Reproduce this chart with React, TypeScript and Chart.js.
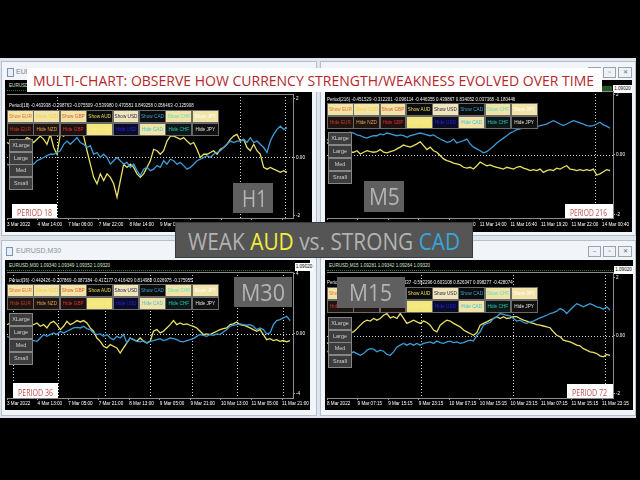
import React, { useEffect, useLayoutEffect, useRef, useState } from 'react';
import { Chart, registerables } from 'chart.js';
Chart.register(...registerables);

// ---------------- DATA ----------------
const H1_LABELS = ['3 Mar 2022', '4 Mar 14:00', '7 Mar 06:00', '7 Mar 22:00', '8 Mar 14:00', '9 Mar 06:00', '9 Mar 22:00', '10 Mar 14:00', '11 Mar 06:00', '11 Mar 22:00'];
const M5_LABELS = ['11 Mar 2022', '11 Mar 03:20', '11 Mar 06:00', '11 Mar 08:40', '11 Mar 11:20', '11 Mar 14:00', '11 Mar 16:40', '11 Mar 19:20', '11 Mar 22:00', '14 Mar 00:40'];
const M30_LABELS = ['3 Mar 2022', '4 Mar 13:00', '7 Mar 05:00', '7 Mar 21:00', '8 Mar 13:00', '9 Mar 05:00', '9 Mar 21:00', '10 Mar 13:00', '11 Mar 05:00', '11 Mar 21:00'];
const M15_LABELS = ['8 Mar 2022', '9 Mar 07:15', '9 Mar 15:15', '9 Mar 23:15', '10 Mar 07:15', '10 Mar 15:15', '10 Mar 23:15', '11 Mar 07:15', '11 Mar 15:15', '11 Mar 23:15'];

const H1_SEPARATORS = [15, 70, 83.5];
const M5_SEPARATORS = [80.5];
const M30_SEPARATORS = [1.8, 15.3, 29.4, 42.9, 55.5, 69, 82.8];
const M15_SEPARATORS = [28.2, 55.9, 83.5];

const H1_AUD = [0.51, 0.45, 0.56, 0.62, 0.51, 0.56, 0.68, 0.62, 0.51, 0.62,
  0.73, 0.62, 0.45, 0.79, 0.34, 0.11, 0.79, 0.73, 0.85, 0.79,
  0.85, 0.79, 0.81, 0.73, 0.23, -0.23, -0.68, -0.90, -0.56, -0.79,
  -0.56, -0.68, -0.90, -1.36, -0.79, -0.23, -0.34, -0.23, -0.34, -0.56,
  -0.68, -0.56, -0.34, -0.11, 0.28, 0.23, 0.11, 0.23, 0.56, 0.73,
  0.73, 0.68, 0.62, 0.68, 0.56, 0.45, 0.51, 0.28, 0, 0.11,
  0.11, 0.17, 0.23, 0.11, 0.28, 0.34, 0.45, 0.62, 0.73, 0.79,
  0.56, 0.62, 0.34, 0.23, 0.45, 0.23, 0.11, -0.34, -0.40, -0.34,
  -0.40, -0.45, -0.51, -0.45, -0.51];
const H1_CAD = [-0.23, -0.28, -0.23, -0.17, -0.23, -0.11, -0.17, -0.23, -0.23, -0.11,
  -0.06, 0, 0.06, 0.11, 0.11, 0.17, 0.23, 0.45, 0.56, 0.45,
  0.56, 0.68, 0.51, 0.45, 0.34, 0.40, 0.11, 0.17, 0, 0.11,
  0, -0.23, -0.11, 0, -0.11, -0.23, -0.17, -0.34, -0.23, -0.45,
  -0.62, -0.40, -0.34, -0.45, -0.40, -0.28, -0.34, -0.11, -0.23, -0.06,
  -0.11, -0.23, -0.17, -0.28, -0.40, -0.34, -0.23, -0.11, -0.06, 0,
  0.06, 0, 0.11, 0.17, 0.23, 0.34, 0.45, 0.56, 0.51, 0.56,
  0.56, 0.62, 0.51, 0.68, 0.51, 0.56, 0.45, 0.34, 0.17, 0.56,
  0.79, 0.96, 1.07, 0.96, 1.02];

const M5_AUD = [0.42, 0.31, 0.20, 0.14, 0.09, 0.11, 0.07, 0.09,
  0.09, 0.14, 0.03, 0.09, 0.14, 0.11, 0.09, 0.11, 0.18, 0.09,
  0.07, 0.11, 0.14, 0.20, 0.26, 0.33, 0.29, 0.26, 0.31, 0.37,
  0.44, 0.31, 0.18, 0.26, 0.14, 0.09, -0.02, -0.13, -0.19, -0.22,
  -0.27, -0.30, -0.33, -0.41, -0.44, -0.41, -0.47, -0.36, -0.24, -0.30,
  -0.36, -0.33, -0.38, -0.41, -0.44, -0.47, -0.41, -0.44, -0.47, -0.41,
  -0.38, -0.44, -0.47, -0.52, -0.49, -0.52, -0.47, -0.58, -0.52, -0.49,
  -0.52, -0.44, -0.47, -0.41, -0.36, -0.47, -0.49, -0.52, -0.49, -0.52,
  -0.49, -0.52, -0.47, -0.67, -0.63, -0.56, -0.49, -0.52];
const M5_CAD = [0.48, 0.59, 0.64, 0.70, 0.67, 0.73, 0.70, 0.76,
  0.73, 0.67, 0.64, 0.59, 0.56, 0.61, 0.64, 0.64, 0.70, 0.67,
  0.73, 0.70, 0.67, 0.64, 0.67, 0.64, 0.59, 0.64, 0.67, 0.70,
  0.73, 0.70, 0.67, 0.64, 0.67, 0.59, 0.53, 0.48, 0.42, 0.44,
  0.53, 0.40, 0.44, 0.48, 0.53, 0.37, 0.26, 0.20, 0.14, 0.07,
  0.11, 0.20, 0.29, 0.40, 0.48, 0.56, 0.64, 0.73, 0.78, 0.84,
  0.87, 0.89, 0.92, 0.89, 0.96, 0.92, 0.98, 1.00, 1.03, 1.09,
  1.14, 1.09, 1.03, 0.98, 1.03, 1.09, 1.14, 1.11, 1.07, 1.03,
  0.98, 0.96, 0.98, 1.03, 1.09, 1.00, 0.96, 0.89];

const M30_AUD = [0.62, 0.73, 0.58, 0.67, 0.51, 0.62, 0.67, 0.58,
  0.62, 0.73, 0.51, 0.62, 0.40, 0.73, 0.84, 0.62, 0.29, 0.51,
  0.84, 0.62, 0.73, 0.89, 0.80, 0.89, 0.73, 0.40, 0.18, -0.27,
  -0.49, -0.82, -0.93, -0.71, -0.82, -0.93, -1.27, -0.93, -0.60, -0.27,
  -0.38, -0.49, -0.27, -0.49, -0.60, -0.49, 0.18, 0.29, 0.07, 0.18,
  0.40, 0.62, 0.89, 0.62, 0.73, 0.62, 0.67, 0.58, 0.51, 0.40,
  0.18, -0.04, 0, -0.04, 0.07, 0.18, 0.29, 0.36, 0.40, 0.62,
  0.67, 0.80, 0.62, 0.58, 0.51, 0.40, 0.29, 0.18, 0.29, -0.04,
  -0.38, -0.31, -0.44, -0.38, -0.49, -0.44, -0.53, -0.44];
const M30_CAD = [-0.16, -0.27, -0.38, -0.31, -0.44, -0.38, -0.49, -0.44,
  -0.44, -0.49, -0.27, -0.04, -0.16, -0.04, 0.07, -0.04, 0.18, 0.07,
  0.18, 0.29, 0.40, 0.44, 0.40, 0.51, 0.36, 0.29, 0.07, -0.04,
  0, -0.16, -0.04, -0.27, -0.38, -0.16, -0.27, -0.04, -0.60, -0.27,
  -0.38, -0.49, -0.53, -0.44, -0.60, -0.49, -0.44, -0.38, -0.31, -0.44,
  -0.38, -0.27, -0.31, -0.38, -0.49, -0.53, -0.44, -0.38, -0.31, -0.16,
  -0.04, -0.09, -0.16, -0.04, -0.09, 0, -0.04, 0.13, 0.29, 0.51,
  0.58, 0.62, 0.67, 0.62, 0.58, 0.62, 0.51, 0.29, 0.40, 0.29,
  0, 0.07, 0.62, 0.89, 0.96, 1.07, 1.18, 0.89];

const M15_AUD = [-0.26, -0.21, -0.15, -0.09, -0.03, 0.02, 0.08, 0.11,
  0.14, 0.25, 0.37, 0.48, 0.54, 0.51, 0.60, 0.54, 0.60, 0.71,
  0.77, 0.62, 0.66, 0.60, 0.77, 0.60, 0.43, 0.48, 0.54, 0.48,
  0.43, 0.51, 0.46, 0.37, 0.20, 0.14, 0.37, 0.46, 0.54, 0.51,
  0.43, 0.37, 0.31, 0.20, 0.14, 0.08, 0.02, 0.11, 0.37, 0.43,
  0.48, 0.54, 0.60, 0.66, 0.60, 0.66, 0.60, 0.62, 0.66, 0.66,
  0.60, 0.54, 0.51, 0.46, 0.43, 0.39, 0.37, 0.34, 0.31, 0.28,
  0.14, 0.02, -0.03, -0.15, -0.18, -0.21, -0.26, -0.32, -0.34, -0.44,
  -0.49, -0.55, -0.57, -0.61, -0.69, -0.72, -0.64, -0.67];
const M15_CAD = [-0.55, -0.49, -0.57, -0.61, -0.53, -0.57, -0.55, -0.61,
  -0.55, -0.61, -0.67, -0.61, -0.49, -0.44, -0.46, -0.55, -0.49, -0.53,
  -0.64, -0.67, -0.55, -0.38, -0.32, -0.26, -0.32, -0.26, -0.32, -0.26,
  -0.32, -0.26, -0.23, -0.21, -0.26, -0.18, -0.23, -0.26, -0.21, -0.18,
  -0.23, -0.21, -0.26, -0.23, -0.18, -0.15, -0.18, 0.02, 0.14, 0.37,
  0.43, 0.46, 0.60, 0.66, 0.77, 0.74, 0.71, 0.69, 0.60, 0.51,
  0.54, 0.46, 0.43, 0.48, 0.51, 0.57, 0.62, 0.66, 0.71, 0.77,
  0.80, 0.85, 0.94, 0.89, 0.77, 0.89, 1.00, 1.11, 1.06, 1.00,
  1.06, 1.11, 1.06, 1.00, 0.97, 0.92, 1.00, 0.89];

const H1_Y_TICKS = [2, 0, -2];
const M5_Y_TICKS = [2, 0, -2];
const M30_Y_TICKS = [4, 0, -4];
const M15_Y_TICKS = [2, 0, -2];

const H1_PERIOD_TEXT = 'Period(18) -0.463938 -0.298763 -0.075509 -0.539980 0.470581 0.849258 0.056463 -0.125908';
const M5_PERIOD_TEXT = 'Period(216) -0.451529 -0.312201 -0.096114 -0.446355 0.439867 0.834052 0.037368 -0.180446';
const M30_PERIOD_TEXT = 'Period(36) -0.442426 -0.207869 -0.087384 -0.417177 0.416429 0.814988 0.026975 -0.175955';
const M15_PERIOD_TEXT = 'Period(72) -0.452207 -0.280017 -0.101337 -0.592296 0.603108 0.826347 0.098277 -0.428074';

const SHOW_LABELS = ['Show EUR', 'Show NZD', 'Show GBP', 'Show AUD', 'Show USD', 'Show CAD', 'Show CHF', 'Show JPY'];
const HIDE_LABELS = ['Hide EUR', 'Hide NZD', 'Hide GBP', 'Hide AUD', 'Hide USD', 'Hide CAD', 'Hide CHF', 'Hide JPY'];
const SHOW_BG = ['#f2e3a6', '#f2e3a6', '#f2e3a6', '#0c0c0c', '#f2e6b8', '#0c0c0c', '#f2e3a6', '#f2e3a6'];
const SHOW_FG = ['#e2742e', '#f1cf4a', '#e05a28', '#e8df5c', '#1c1c5e', '#3a9fd6', '#5fe0c0', '#ffffff'];
const HIDE_BG = ['#1e1410', '#1e1410', '#1e1010', '#f3e67e', '#0a0a2a', '#f2e3a6', '#0a1818', '#101010'];
const HIDE_FG = ['#c83a30', '#e5a05a', '#e03030', '#f7f08a', '#2424d8', '#3ac6e0', '#2fc0b0', '#e0e0e0'];
const SIZE_LABELS = ['XLarge', 'Large', 'Med', 'Small'];

const YELLOW = '#e9e064';
const BLUE = '#3c9dd6';
const TINY = '"Liberation Sans", Arial, sans-serif';

// ---------------- helpers ----------------
function FitText({ width, style, children }: any) {
  const ref = useRef<HTMLSpanElement>(null);
  const [k, setK] = useState(1);
  useLayoutEffect(() => {
    const el = ref.current;
    if (el && el.offsetWidth > 0) setK(width / el.offsetWidth);
  }, [width]);
  return (
    <span ref={ref} style={{ display: 'inline-block', whiteSpace: 'nowrap', transformOrigin: 'left center', transform: `scaleX(${k})`, ...style }}>
      {children}
    </span>
  );
}

function TextAt({ x, cy, w, h, style, children }: any) {
  return (
    <div style={{ position: 'absolute', left: x, top: cy - h / 2, height: h, lineHeight: `${h}px`, whiteSpace: 'nowrap' }}>
      <FitText width={w} style={style}>{children}</FitText>
    </div>
  );
}

const box = (x: number, y: number, w: number, h: number, extra: any = {}) => ({
  position: 'absolute' as const, left: x, top: y, width: w, height: h, boxSizing: 'border-box' as const, ...extra,
});

const mtPlugin = (seps: number[]) => ({
  id: 'mtgrid',
  beforeDatasetsDraw(chart: any) {
    const { ctx, chartArea: a, scales } = chart;
    const xs = scales.x, ys = scales.y;
    ctx.save();
    ctx.strokeStyle = '#cfcfcf';
    ctx.lineWidth = 1;
    ctx.setLineDash([1, 2]);
    ctx.beginPath();
    const y0 = Math.round(ys.getPixelForValue(0)) + 0.5;
    ctx.moveTo(a.left, y0);
    ctx.lineTo(a.right, y0);
    seps.forEach((s) => {
      const px = Math.round(xs.getPixelForValue(s)) + 0.5;
      ctx.moveTo(px, a.top);
      ctx.lineTo(px, a.bottom);
    });
    ctx.stroke();
    ctx.setLineDash([]);
    ctx.strokeStyle = '#8c8c8c';
    ctx.beginPath();
    ctx.moveTo(a.left, a.top + 0.5);
    ctx.lineTo(a.right, a.top + 0.5);
    ctx.stroke();
    ctx.restore();
  },
});

function MTChart({ cfg }: any) {
  const ref = useRef<HTMLCanvasElement>(null);
  useEffect(() => {
    const toPts = (arr: number[]) => arr.map((y, i) => ({ x: i, y }));
    const tickFont = { family: TINY, size: 4.6 };
    const chart = new Chart(ref.current as HTMLCanvasElement, {
      type: 'line',
      data: {
        datasets: [
          { label: 'CAD', data: toPts(cfg.cad), borderColor: BLUE, borderWidth: 1.3, pointRadius: 0, tension: 0 },
          { label: 'AUD', data: toPts(cfg.aud), borderColor: YELLOW, borderWidth: 1.3, pointRadius: 0, tension: 0 },
        ],
      },
      options: {
        animation: false,
        responsive: false,
        events: [],
        layout: { padding: { left: cfg.padL, top: cfg.padT, right: 0, bottom: 0 } },
        plugins: { legend: { display: false }, tooltip: { enabled: false } },
        scales: {
          x: {
            type: 'linear', min: 0, max: cfg.xMax,
            afterBuildTicks: (ax: any) => { ax.ticks = cfg.labels.map((_: string, k: number) => ({ value: k * cfg.xStep })); },
            afterFit: (ax: any) => { ax.height = cfg.xAxisH; ax.paddingLeft = 0; ax.paddingRight = 0; },
            ticks: { autoSkip: false, maxRotation: 0, minRotation: 0, align: 'start', padding: cfg.xPad, color: '#ffffff', font: tickFont, callback: (_v: any, i: number) => cfg.labels[i] },
            grid: { drawOnChartArea: false, drawTicks: true, tickLength: 2, color: '#a0a0a0' },
            border: { display: true, color: '#8c8c8c' },
          },
          y: {
            type: 'linear', position: 'right', min: cfg.yMin, max: cfg.yMax,
            afterBuildTicks: (ax: any) => { ax.ticks = cfg.yTicks.map((v: number) => ({ value: v })); },
            afterFit: (ax: any) => { ax.width = cfg.yAxisW; ax.paddingTop = 0; ax.paddingBottom = 0; },
            ticks: { padding: 1, color: '#ffffff', font: tickFont, callback: (v: any) => (v === 0 ? '0.00' : String(v)) },
            grid: { drawOnChartArea: false, drawTicks: true, tickLength: 2, color: '#a0a0a0' },
            border: { display: true, color: '#8c8c8c' },
          },
        },
      } as any,
      plugins: [mtPlugin(cfg.seps)],
    });
    return () => chart.destroy();
  }, [cfg]);
  return <canvas ref={ref} width={cfg.w} height={cfg.h} style={{ position: 'absolute', left: cfg.x, top: cfg.y, width: cfg.w, height: cfg.h }} />;
}

// ---------------- panel configs (layout) ----------------
const PANELS = [
  {
    x: 5, y: 80, w: 307, h: 152, padL: 2, padT: 14, yAxisW: 19, xAxisH: 14, xPad: 2,
    xMax: 85.8, xStep: 9.18, yMin: -2.07, yMax: 2.17, yTicks: H1_Y_TICKS, labels: H1_LABELS, seps: H1_SEPARATORS, aud: H1_AUD, cad: H1_CAD,
    ptext: H1_PERIOD_TEXT, ptX: 9, ptY: 102, ptW: 185,
    btnX: 7, showY: 110, hideY: 123, btnW: 26.4,
    sizeX: 9, sizeY: [139, 152, 164, 177],
    tf: 'H1', tfBox: [233, 183, 40, 30], tfText: [242, 198, 25],
    period: 'PERIOD 18', pBox: [12, 204, 45, 14], pText: [17, 211, 35],
  },
  {
    x: 325, y: 80, w: 307, h: 152, padL: 2, padT: 11, yAxisW: 19, xAxisH: 14, xPad: 2,
    xMax: 85.9, xStep: 9.18, yMin: -2.1, yMax: 2.13, yTicks: M5_Y_TICKS, labels: M5_LABELS, seps: M5_SEPARATORS, aud: M5_AUD, cad: M5_CAD,
    ptext: M5_PERIOD_TEXT, ptX: 327, ptY: 96, ptW: 188,
    btnX: 327, showY: 103, hideY: 116, btnW: 26.25,
    sizeX: 328, sizeY: [132, 145, 158, 171],
    tf: 'M5', tfBox: [364, 181, 40, 31], tfText: [369, 196, 31],
    period: 'PERIOD 216', pBox: [565, 204, 48, 14], pText: [570, 211, 37],
  },
  {
    x: 5, y: 260, w: 305, h: 150, padL: 2, padT: 12, yAxisW: 17, xAxisH: 12, xPad: 1,
    xMax: 85.9, xStep: 9.18, yMin: -4.27, yMax: 4.13, yTicks: M30_Y_TICKS, labels: M30_LABELS, seps: M30_SEPARATORS, aud: M30_AUD, cad: M30_CAD,
    ptext: M30_PERIOD_TEXT, ptX: 9, ptY: 277, ptW: 184,
    btnX: 7, showY: 284, hideY: 297, btnW: 26.4,
    sizeX: 9, sizeY: [313, 326, 339, 352],
    tf: 'M30', tfBox: [234, 277, 58, 30], tfText: [241, 292, 44],
    period: 'PERIOD 36', pBox: [13, 383, 45, 15], pText: [18, 390.5, 35],
  },
  {
    x: 325, y: 260, w: 308, h: 150, padL: 2, padT: 12, yAxisW: 20, xAxisH: 12, xPad: 1,
    xMax: 85.9, xStep: 9.18, yMin: -2.14, yMax: 2.2, yTicks: M15_Y_TICKS, labels: M15_LABELS, seps: M15_SEPARATORS, aud: M15_AUD, cad: M15_CAD,
    ptext: M15_PERIOD_TEXT, ptX: 327, ptY: 279, ptW: 186,
    btnX: 327, showY: 287, hideY: 300, btnW: 26.25,
    sizeX: 328, sizeY: [317, 330, 342, 355],
    tf: 'M15', tfBox: [337, 277, 68, 31], tfText: [349, 292, 43],
    period: 'PERIOD 72', pBox: [567, 384, 46, 14], pText: [572, 391, 35],
  },
];

const WINDOWS = [
  { x: 1, y: 61, w: 316, h: 175 },
  { x: 320, y: 61, w: 316, h: 175 },
  { x: 1, y: 240, w: 316, h: 176 },
  { x: 320, y: 240, w: 316, h: 176 },
];

function PanelOverlay({ p }: any) {
  const btnFont = { fontFamily: TINY, fontSize: 4.7, textAlign: 'center' as const, lineHeight: '11px', overflow: 'hidden', whiteSpace: 'nowrap' as const };
  return (
    <>
      <TextAt x={p.ptX} cy={p.ptY} w={p.ptW} h={8} style={{ color: '#f0f0f0', fontFamily: TINY, fontSize: 6 }}>{p.ptext}</TextAt>
      {SHOW_LABELS.map((t, k) => (
        <div key={'s' + k} style={box(p.btnX + k * p.btnW, p.showY, p.btnW + 0.5, 13, { background: SHOW_BG[k], color: SHOW_FG[k], border: '1px solid #6a6a6a', ...btnFont })}>{t}</div>
      ))}
      {HIDE_LABELS.map((t, k) => (
        <div key={'h' + k} style={box(p.btnX + k * p.btnW, p.hideY, p.btnW + 0.5, 13, { background: HIDE_BG[k], color: HIDE_FG[k], border: '1px solid #6a6a6a', ...btnFont })}>{t}</div>
      ))}
      {SIZE_LABELS.map((t, k) => (
        <div key={'z' + k} style={box(p.sizeX, p.sizeY[k], 24, 13, { background: '#3d3d3d', color: '#cfcfcf', border: '1px solid #858585', ...btnFont, fontSize: 5.5 })}>{t}</div>
      ))}
      <div style={box(p.tfBox[0], p.tfBox[1], p.tfBox[2], p.tfBox[3], { background: '#5f5f5f' })} />
      <TextAt x={p.tfText[0]} cy={p.tfText[1]} w={p.tfText[2]} h={30} style={{ color: '#b4b4b4', fontFamily: '"Open Sans", sans-serif', fontSize: 23 }}>{p.tf}</TextAt>
      <div style={box(p.pBox[0], p.pBox[1], p.pBox[2], p.pBox[3], { background: '#ffffff' })} />
      <TextAt x={p.pText[0]} cy={p.pText[1]} w={p.pText[2]} h={12} style={{ color: '#c0504d', fontFamily: '"Open Sans", sans-serif', fontSize: 8.5 }}>{p.period}</TextAt>
    </>
  );
}

function WinButtons({ x, y }: any) {
  const s = { background: '#eef1f5', border: '1px solid #9aa4b0', color: '#606a76', fontSize: 6, fontFamily: TINY, textAlign: 'center' as const, lineHeight: '9px' };
  return (
    <>
      <div style={box(x, y, 13, 11, s)}>–</div>
      <div style={box(x + 15, y, 13, 11, s)}>▫</div>
      <div style={box(x + 30, y, 14, 11, s)}>✕</div>
    </>
  );
}

export default function App() {
  return (
    <div style={{ position: 'absolute', left: 0, top: 0, width: 640, height: 480, background: '#000', overflow: 'hidden' }}>
      {/* MDI area */}
      <div style={box(0, 58, 636, 360, { background: '#dfe5ec' })} />
      {WINDOWS.map((w, i) => (
        <div key={i} style={box(w.x, w.y, w.w, w.h, { background: '#f1f4f8', border: '1px solid #b5bfca' })} />
      ))}
      {/* window titles / icons */}
      <div style={box(7, 68, 7, 9, { border: '1px solid #7d95b5', background: '#e8eef6' })} />
      <div style={{ position: 'absolute', left: 16, top: 68, fontSize: 7, fontFamily: TINY, color: '#7a8490' }}>EUR</div>
      <div style={box(6, 247, 7, 9, { border: '1px solid #7d95b5', background: '#e8eef6' })} />
      <div style={{ position: 'absolute', left: 16, top: 247, fontSize: 7, fontFamily: TINY, color: '#8a949e' }}>EURUSD,M30</div>
      <WinButtons x={588} y={67} />
      <WinButtons x={588} y={246} />

      {/* black chart panels */}
      {PANELS.map((p, i) => (
        <div key={'bg' + i} style={box(p.x, p.y, p.w, p.h, { background: '#000' })} />
      ))}
      {/* mini price strips */}
      {PANELS.map((p, i) => (
        <div key={'st' + i} style={box(p.x + 2, p.y + 2, p.w - 22, 9, { borderBottom: '1px dotted #2f7a2f' })}>
          <span style={{ position: 'absolute', left: 2, top: 1, fontSize: 4.6, fontFamily: TINY, color: '#cfe8cf', whiteSpace: 'nowrap' }}>
            {['EURUSD,H1', 'EURUSD,M5', 'EURUSD,M30 1.09340 1.09349 1.09352 1.09320', 'EURUSD,M15 1.09281 1.09342 1.09264 1.09320'][i]}
          </span>
        </div>
      ))}
      {/* price labels */}
      <div style={box(592, 86, 20, 6, { background: '#1f5a1f' })} />
      <div style={box(613, 85, 19, 8, { background: '#fff', color: '#000', fontSize: 4.6, fontFamily: TINY, lineHeight: '8px', textAlign: 'center' })}>1.09020</div>
      <div style={box(295, 263, 18, 8, { background: '#fff', color: '#000', fontSize: 4.6, fontFamily: TINY, lineHeight: '8px', textAlign: 'center' })}>1.09020</div>
      <div style={box(614, 266, 19, 8, { background: '#fff', color: '#000', fontSize: 4.6, fontFamily: TINY, lineHeight: '8px', textAlign: 'center' })}>1.09020</div>

      {PANELS.map((p, i) => <MTChart key={'c' + i} cfg={p} />)}
      {PANELS.map((p, i) => <PanelOverlay key={'o' + i} p={p} />)}

      {/* title */}
      <div style={box(27, 68, 575, 24, { background: '#ffffff' })} />
      <TextAt x={33} cy={80} w={561} h={22} style={{ color: '#b3282d', fontFamily: '"Open Sans", sans-serif', fontSize: 15 }}>
        MULTI-CHART: OBSERVE HOW CURRENCY STRENGTH/WEAKNESS EVOLVED OVER TIME
      </TextAt>

      {/* center label */}
      <div style={box(175, 222, 298, 36, { background: '#555555', border: '1px solid #3a3a3a' })} />
      <TextAt x={188} cy={241} w={272} h={30} style={{ color: '#b2b2b2', fontFamily: '"Open Sans", sans-serif', fontSize: 23 }}>
        WEAK <span style={{ color: '#f2ee3a' }}>AUD</span> vs. STRONG <span style={{ color: '#36a6dc' }}>CAD</span>
      </TextAt>
    </div>
  );
}
